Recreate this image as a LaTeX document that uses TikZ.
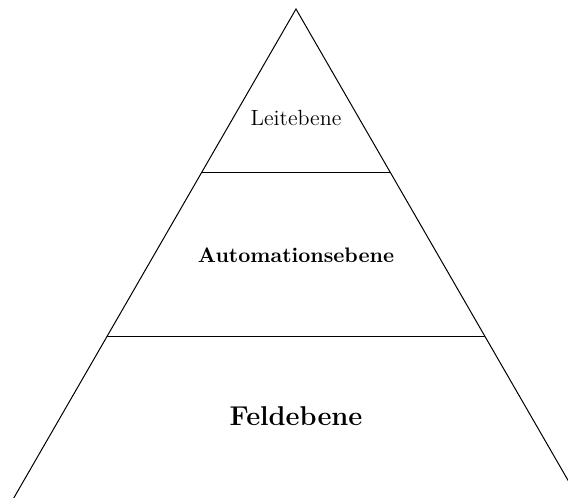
\documentclass[tikz,border=0pt]{standalone}
\begin{document}
\begin{tikzpicture}[x=0.5pt, y=-0.5pt, line width=0.5pt, every node/.style={font=\normalsize}]
    \clip (0,0) rectangle (568,498);
    % Draw pyramid sides
        \coordinate (apex) at (296,9);
        \coordinate (baseL) at (8,508);
        \coordinate (baseR) at (584,508);
        \draw (baseL) -- (apex) -- (baseR);
    % Draw level borders
        \coordinate (topL) at (201.5,172.5);
        \coordinate (topR) at (390.5,172.5);
        \coordinate (midL) at (107,336.5);
        \coordinate (midR) at (485,336.5);
        \draw (topL) -- (topR);
        \draw (midL) -- (midR);
    % Draw level labels
        \node[font=\fontsize{11}{13}\selectfont] (leit) at (296,118) {Leitebene};
        \node[font=\fontsize{10.5}{12.5}\selectfont\bfseries] (auto) at (296,255) {Automationsebene};
        \node[font=\fontsize{13.6}{16}\selectfont\bfseries] (feld) at (296,416) {Feldebene};
\end{tikzpicture}
\end{document}
